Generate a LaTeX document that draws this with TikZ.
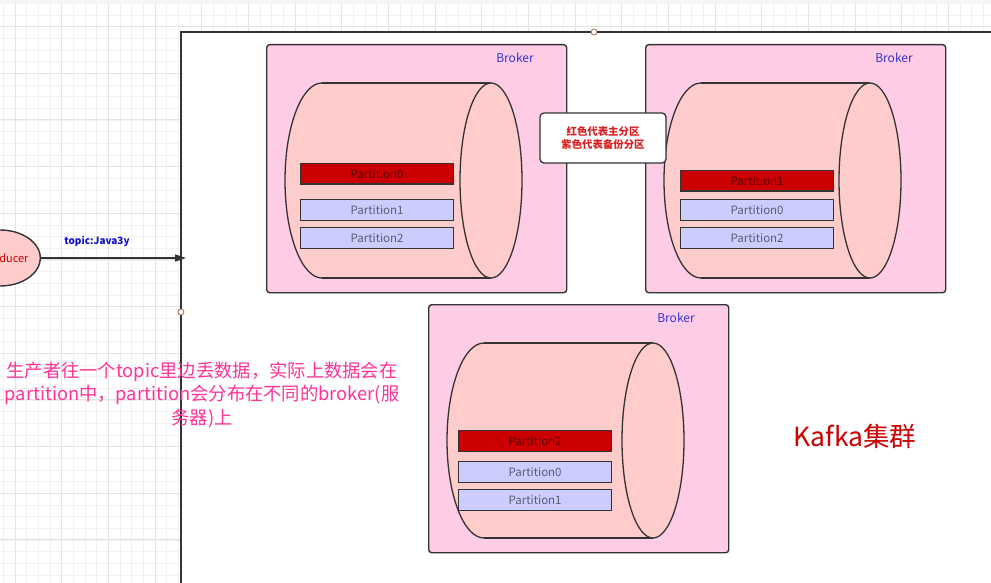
\documentclass[tikz,border=0pt]{standalone}
\usepackage{fontspec}
\setmainfont{Noto Sans CJK SC}
\usetikzlibrary{arrows.meta,shapes.geometric}
\definecolor{bordc}{HTML}{333333}
\definecolor{brokerfill}{HTML}{FFCCE6}
\definecolor{cylfill}{HTML}{FFCCCC}
\definecolor{mainred}{HTML}{CC0000}
\definecolor{notered}{HTML}{DD1F1F}
\definecolor{backblue}{HTML}{CCCCFF}
\definecolor{brokertxt}{HTML}{3333CC}
\definecolor{topictxt}{HTML}{1010CC}
\definecolor{pinktxt}{HTML}{FF3399}
\definecolor{gridminor}{HTML}{F1F1F1}
\definecolor{gridmajor}{HTML}{E4E4E4}
\definecolor{handlec}{HTML}{B85450}
\tikzset{
  brokerbox/.style={draw=bordc, line width=1.4pt, fill=brokerfill, rounded corners=3pt, anchor=north west, minimum width=300pt, minimum height=248pt, inner sep=0pt},
  brokerlbl/.style={text=brokertxt, font=\fontsize{12}{14}\selectfont},
  partbase/.style={draw=bordc, line width=1.2pt, anchor=north west, minimum width=153pt, minimum height=20.5pt, inner sep=0pt, font=\fontsize{11.5}{13}\selectfont, text=black, text opacity=0.55},
  mainpart/.style={partbase, fill=mainred},
  backpart/.style={partbase, fill=backblue},
  cylline/.style={draw=bordc, line width=1.3pt},
  handle/.style={circle, draw=handlec, fill=white, line width=0.7pt, minimum size=6pt, inner sep=0pt}
}
\newcommand{\kcylinder}{%
  \begin{scope}
    \clip (250,0) rectangle (322,400);
    \path[fill=cylfill, cylline] (322,180.5) ellipse [x radius=37, y radius=97.5];
  \end{scope}
  \fill[cylfill] (321.5,83) rectangle (491,278);
  \draw[cylline] (322,83) -- (491,83);
  \draw[cylline] (322,278) -- (491,278);
  \path[fill=cylfill, cylline] (491,180.5) ellipse [x radius=31, y radius=97.5];
}
\begin{document}
\begin{tikzpicture}[x=1pt, y=-1pt]
\useasboundingbox (0,0) rectangle (991,583);
\clip (0,0) rectangle (991,583);
% background grid
\fill[white] (0,0) rectangle (991,583);
\foreach \i in {0,...,85} {
  \draw[gridminor, line width=0.8pt] ({3.4+11.667*\i},0) -- ({3.4+11.667*\i},583);
}
\foreach \i in {0,...,50} {
  \draw[gridminor, line width=0.8pt] (0,{3.4+11.667*\i}) -- (991,{3.4+11.667*\i});
}
\foreach \i in {0,...,21} {
  \draw[gridmajor, line width=0.8pt] ({15+46.667*\i},0) -- ({15+46.667*\i},583);
}
\foreach \i in {0,...,12} {
  \draw[gridmajor, line width=0.8pt] (0,{26.3+46.667*\i}) -- (991,{26.3+46.667*\i});
}
\fill[gray!8] (0,0) rectangle (991,4);
% cluster container
\draw[bordc, line width=1.6pt, fill=white] (181,32) rectangle (1010,600);
% producer
\node[ellipse, draw=bordc, line width=1.4pt, fill=cylfill, minimum width=76pt, minimum height=56pt, inner sep=0pt, text=red!85!black, font=\fontsize{11}{13}\selectfont] (producer) at (0,258) {\hspace*{10pt}Producer};
\coordinate (clusterin) at (186,258);
\draw[bordc, line width=1.4pt, -{Triangle[length=11pt, width=7pt]}] (producer.east) -- (clusterin);
\node[text=topictxt, font=\bfseries\fontsize{10}{12}\selectfont] (topiclbl) at (97,241) {topic:Java3y};
% broker 1
\node[brokerbox] (b1) at (266,44) {};
\node[brokerlbl] (b1lbl) at (515,58) {Broker};
\kcylinder
\node[mainpart] (b1p0) at (300,163) {Partition0};
\node[backpart] (b1p1) at (300,199) {Partition1};
\node[backpart] (b1p2) at (300,227) {Partition2};
% broker 2
\node[brokerbox] (b2) at (645,44) {};
\node[brokerlbl] (b2lbl) at (894,58) {Broker};
\begin{scope}[shift={(379,0)}]
\kcylinder
\end{scope}
\node[mainpart] (b2p1) at (680,170) {Partition1};
\node[backpart] (b2p0) at (680,199) {Partition0};
\node[backpart] (b2p2) at (680,227) {Partition2};
% broker 3
\node[brokerbox] (b3) at (428,304) {};
\node[brokerlbl] (b3lbl) at (676,318) {Broker};
\begin{scope}[shift={(162,260)}]
\kcylinder
\end{scope}
\node[mainpart] (b3p2) at (458,430) {Partition2};
\node[backpart] (b3p0) at (458,461) {Partition0};
\node[backpart] (b3p1) at (458,489) {Partition1};
% note
\node[draw=bordc, line width=1.3pt, fill=white, rounded corners=4pt, minimum width=126pt, minimum height=50pt, inner sep=0pt, align=center, text=notered, font=\bfseries\fontsize{10.4}{12.5}\selectfont] (note) at (603,138) {红色代表主分区\\紫色代表备份分区};
% handles
\node[handle] (h1) at (594,32) {};
\node[handle] (h2) at (181,312) {};
% texts
\node[align=center, text=pinktxt, font=\fontsize{18.3}{23.5}\selectfont, inner sep=0pt] (desc) at (202,395) {生产者往一个topic里边丢数据，实际上数据会在\\partition中，partition会分布在不同的broker(服\\务器)上};
\node[text=mainred, font=\fontsize{26.5}{30}\selectfont] (kafka) at (855,436) {Kafka集群};
\end{tikzpicture}
\end{document}
